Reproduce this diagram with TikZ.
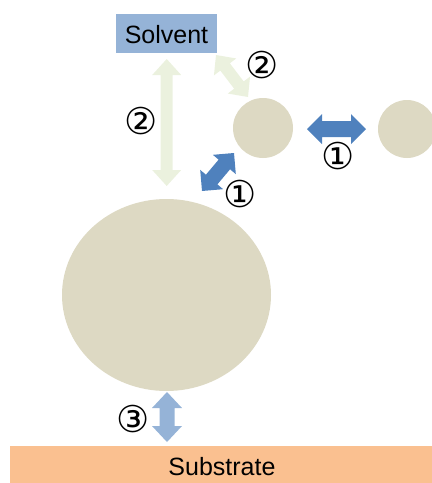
\documentclass[tikz,border=0pt]{standalone}
\usepackage{fontspec}
\setmainfont{Liberation Sans}
\newfontfamily\symfont{DejaVu Sans}
\usetikzlibrary{calc,shapes.geometric}
\definecolor{solventblue}{HTML}{95B3D7}
\definecolor{particle}{HTML}{DDD9C3}
\definecolor{substrate}{HTML}{FAC090}
\definecolor{paleGreen}{HTML}{EBF1DE}
\definecolor{darkBlue}{HTML}{4F81BD}
\newcommand\fatarrow[6]{%
  \fill[#6] (#1)
    -- ($(#1)!#5!(#2)!#4!90:(#2)$)
    -- ($(#1)!#5!(#2)!#3!90:(#2)$)
    -- ($(#2)!#5!(#1)!#3!-90:(#1)$)
    -- ($(#2)!#5!(#1)!#4!-90:(#1)$)
    -- (#2)
    -- ($(#2)!#5!(#1)!#4!90:(#1)$)
    -- ($(#2)!#5!(#1)!#3!90:(#1)$)
    -- ($(#1)!#5!(#2)!#3!-90:(#2)$)
    -- ($(#1)!#5!(#2)!#4!-90:(#2)$)
    -- cycle;}
\tikzset{
  particlenode/.style={circle,fill=particle,inner sep=0pt},
  lbl/.style={font=\symfont\fontsize{37}{37}\selectfont,inner sep=0pt},
  boxtext/.style={font=\fontsize{25}{25}\selectfont,inner sep=0pt}
}
\begin{document}
\begin{tikzpicture}[x=1pt,y=-1pt]
\useasboundingbox (0,0) rectangle (432,483);
% boxes
\fill[solventblue] (116,14) rectangle (217,53);
\node[boxtext] (solvent) at (166.5,34.5) {Solvent};
\fill[substrate] (10,446) rectangle (432,483);
\node[boxtext] (substrate) at (222,467) {Substrate};
% particles
\node[particlenode,minimum size=60pt] (p1) at (263,128) {};
\node[particlenode,minimum size=58pt] (p2) at (407,129) {};
\node[ellipse,fill=particle,inner sep=0pt,minimum width=209pt,minimum height=192pt] (big) at (166.5,295) {};
% arrow endpoints
\coordinate (a1s) at (166.7,59);
\coordinate (a1e) at (166.7,186);
\coordinate (a2s) at (216,55);
\coordinate (a2e) at (248,97);
\coordinate (a3s) at (202,191);
\coordinate (a3e) at (234,153);
\coordinate (a4s) at (307,129);
\coordinate (a4e) at (366,129);
\coordinate (a5s) at (167,392);
\coordinate (a5e) at (167,442);
\fatarrow{a1s}{a1e}{6pt}{14.5pt}{16pt}{paleGreen}
\fatarrow{a2s}{a2e}{6pt}{14pt}{15pt}{paleGreen}
\fatarrow{a3s}{a3e}{7.5pt}{15pt}{15pt}{darkBlue}
\fatarrow{a4s}{a4e}{8pt}{15pt}{15pt}{darkBlue}
\fatarrow{a5s}{a5e}{7.5pt}{15pt}{16pt}{solventblue}
% labels
\node[lbl] (l1) at (141,121) {②};
\node[lbl] (l2) at (262,65) {②};
\node[lbl] (l3) at (240,194) {①};
\node[lbl] (l4) at (338,156) {①};
\node[lbl] (l5) at (133,419) {③};
\end{tikzpicture}
\end{document}
